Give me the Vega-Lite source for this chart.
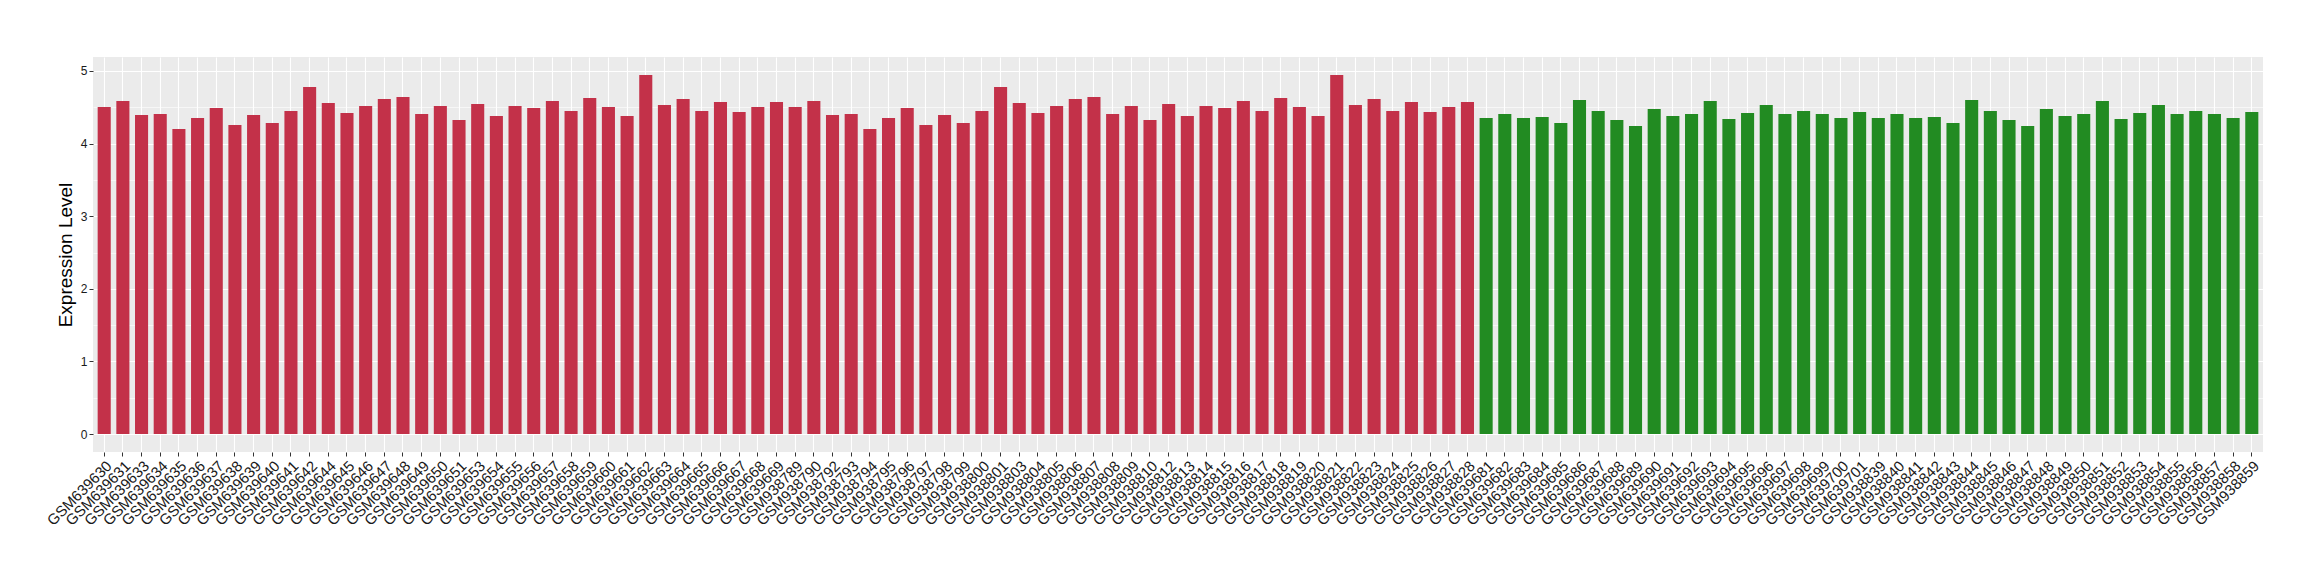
{
  "$schema": "https://vega.github.io/schema/vega-lite/v6.json",
  "autosize": "none",
  "width": 2170,
  "height": 395,
  "padding": {"left": 93, "top": 57, "right": 57, "bottom": 128},
  "background": "white",
  "config": {
    "view": {"fill": "#EBEBEB", "stroke": null},
    "font": "Liberation Sans"
  },
  "data": {
    "values": [
      {"sample": "GSM639630", "value": 4.505, "group": "G1"},
      {"sample": "GSM639631", "value": 4.587, "group": "G1"},
      {"sample": "GSM639633", "value": 4.394, "group": "G1"},
      {"sample": "GSM639634", "value": 4.408, "group": "G1"},
      {"sample": "GSM639635", "value": 4.202, "group": "G1"},
      {"sample": "GSM639636", "value": 4.353, "group": "G1"},
      {"sample": "GSM639637", "value": 4.491, "group": "G1"},
      {"sample": "GSM639638", "value": 4.257, "group": "G1"},
      {"sample": "GSM639639", "value": 4.394, "group": "G1"},
      {"sample": "GSM639640", "value": 4.284, "group": "G1"},
      {"sample": "GSM639641", "value": 4.450, "group": "G1"},
      {"sample": "GSM639642", "value": 4.780, "group": "G1"},
      {"sample": "GSM639644", "value": 4.560, "group": "G1"},
      {"sample": "GSM639645", "value": 4.422, "group": "G1"},
      {"sample": "GSM639646", "value": 4.518, "group": "G1"},
      {"sample": "GSM639647", "value": 4.615, "group": "G1"},
      {"sample": "GSM639648", "value": 4.642, "group": "G1"},
      {"sample": "GSM639649", "value": 4.408, "group": "G1"},
      {"sample": "GSM639650", "value": 4.518, "group": "G1"},
      {"sample": "GSM639651", "value": 4.326, "group": "G1"},
      {"sample": "GSM639653", "value": 4.546, "group": "G1"},
      {"sample": "GSM639654", "value": 4.381, "group": "G1"},
      {"sample": "GSM639655", "value": 4.518, "group": "G1"},
      {"sample": "GSM639656", "value": 4.491, "group": "G1"},
      {"sample": "GSM639657", "value": 4.587, "group": "G1"},
      {"sample": "GSM639658", "value": 4.450, "group": "G1"},
      {"sample": "GSM639659", "value": 4.628, "group": "G1"},
      {"sample": "GSM639660", "value": 4.505, "group": "G1"},
      {"sample": "GSM639661", "value": 4.381, "group": "G1"},
      {"sample": "GSM639662", "value": 4.945, "group": "G1"},
      {"sample": "GSM639663", "value": 4.532, "group": "G1"},
      {"sample": "GSM639664", "value": 4.615, "group": "G1"},
      {"sample": "GSM639665", "value": 4.450, "group": "G1"},
      {"sample": "GSM639666", "value": 4.573, "group": "G1"},
      {"sample": "GSM639667", "value": 4.436, "group": "G1"},
      {"sample": "GSM639668", "value": 4.505, "group": "G1"},
      {"sample": "GSM639669", "value": 4.573, "group": "G1"},
      {"sample": "GSM938789", "value": 4.505, "group": "G1"},
      {"sample": "GSM938790", "value": 4.587, "group": "G1"},
      {"sample": "GSM938792", "value": 4.394, "group": "G1"},
      {"sample": "GSM938793", "value": 4.408, "group": "G1"},
      {"sample": "GSM938794", "value": 4.202, "group": "G1"},
      {"sample": "GSM938795", "value": 4.353, "group": "G1"},
      {"sample": "GSM938796", "value": 4.491, "group": "G1"},
      {"sample": "GSM938797", "value": 4.257, "group": "G1"},
      {"sample": "GSM938798", "value": 4.394, "group": "G1"},
      {"sample": "GSM938799", "value": 4.284, "group": "G1"},
      {"sample": "GSM938800", "value": 4.450, "group": "G1"},
      {"sample": "GSM938801", "value": 4.780, "group": "G1"},
      {"sample": "GSM938803", "value": 4.560, "group": "G1"},
      {"sample": "GSM938804", "value": 4.422, "group": "G1"},
      {"sample": "GSM938805", "value": 4.518, "group": "G1"},
      {"sample": "GSM938806", "value": 4.615, "group": "G1"},
      {"sample": "GSM938807", "value": 4.642, "group": "G1"},
      {"sample": "GSM938808", "value": 4.408, "group": "G1"},
      {"sample": "GSM938809", "value": 4.518, "group": "G1"},
      {"sample": "GSM938810", "value": 4.326, "group": "G1"},
      {"sample": "GSM938812", "value": 4.546, "group": "G1"},
      {"sample": "GSM938813", "value": 4.381, "group": "G1"},
      {"sample": "GSM938814", "value": 4.518, "group": "G1"},
      {"sample": "GSM938815", "value": 4.491, "group": "G1"},
      {"sample": "GSM938816", "value": 4.587, "group": "G1"},
      {"sample": "GSM938817", "value": 4.450, "group": "G1"},
      {"sample": "GSM938818", "value": 4.628, "group": "G1"},
      {"sample": "GSM938819", "value": 4.505, "group": "G1"},
      {"sample": "GSM938820", "value": 4.381, "group": "G1"},
      {"sample": "GSM938821", "value": 4.945, "group": "G1"},
      {"sample": "GSM938822", "value": 4.532, "group": "G1"},
      {"sample": "GSM938823", "value": 4.615, "group": "G1"},
      {"sample": "GSM938824", "value": 4.450, "group": "G1"},
      {"sample": "GSM938825", "value": 4.573, "group": "G1"},
      {"sample": "GSM938826", "value": 4.436, "group": "G1"},
      {"sample": "GSM938827", "value": 4.505, "group": "G1"},
      {"sample": "GSM938828", "value": 4.573, "group": "G1"},
      {"sample": "GSM639681", "value": 4.353, "group": "G2"},
      {"sample": "GSM639682", "value": 4.408, "group": "G2"},
      {"sample": "GSM639683", "value": 4.353, "group": "G2"},
      {"sample": "GSM639684", "value": 4.367, "group": "G2"},
      {"sample": "GSM639685", "value": 4.284, "group": "G2"},
      {"sample": "GSM639686", "value": 4.601, "group": "G2"},
      {"sample": "GSM639687", "value": 4.450, "group": "G2"},
      {"sample": "GSM639688", "value": 4.326, "group": "G2"},
      {"sample": "GSM639689", "value": 4.243, "group": "G2"},
      {"sample": "GSM639690", "value": 4.477, "group": "G2"},
      {"sample": "GSM639691", "value": 4.381, "group": "G2"},
      {"sample": "GSM639692", "value": 4.408, "group": "G2"},
      {"sample": "GSM639693", "value": 4.587, "group": "G2"},
      {"sample": "GSM639694", "value": 4.339, "group": "G2"},
      {"sample": "GSM639695", "value": 4.422, "group": "G2"},
      {"sample": "GSM639696", "value": 4.532, "group": "G2"},
      {"sample": "GSM639697", "value": 4.408, "group": "G2"},
      {"sample": "GSM639698", "value": 4.450, "group": "G2"},
      {"sample": "GSM639699", "value": 4.408, "group": "G2"},
      {"sample": "GSM639700", "value": 4.353, "group": "G2"},
      {"sample": "GSM639701", "value": 4.436, "group": "G2"},
      {"sample": "GSM938839", "value": 4.353, "group": "G2"},
      {"sample": "GSM938840", "value": 4.408, "group": "G2"},
      {"sample": "GSM938841", "value": 4.353, "group": "G2"},
      {"sample": "GSM938842", "value": 4.367, "group": "G2"},
      {"sample": "GSM938843", "value": 4.284, "group": "G2"},
      {"sample": "GSM938844", "value": 4.601, "group": "G2"},
      {"sample": "GSM938845", "value": 4.450, "group": "G2"},
      {"sample": "GSM938846", "value": 4.326, "group": "G2"},
      {"sample": "GSM938847", "value": 4.243, "group": "G2"},
      {"sample": "GSM938848", "value": 4.477, "group": "G2"},
      {"sample": "GSM938849", "value": 4.381, "group": "G2"},
      {"sample": "GSM938850", "value": 4.408, "group": "G2"},
      {"sample": "GSM938851", "value": 4.587, "group": "G2"},
      {"sample": "GSM938852", "value": 4.339, "group": "G2"},
      {"sample": "GSM938853", "value": 4.422, "group": "G2"},
      {"sample": "GSM938854", "value": 4.532, "group": "G2"},
      {"sample": "GSM938855", "value": 4.408, "group": "G2"},
      {"sample": "GSM938856", "value": 4.450, "group": "G2"},
      {"sample": "GSM938857", "value": 4.408, "group": "G2"},
      {"sample": "GSM938858", "value": 4.353, "group": "G2"},
      {"sample": "GSM938859", "value": 4.436, "group": "G2"}
    ]
  },
  "mark": {"type": "bar"},
  "encoding": {
    "x": {
      "field": "sample",
      "type": "nominal",
      "sort": null,
      "scale": {"paddingInner": 0.3, "paddingOuter": 0.25},
      "axis": {
        "title": null,
        "domain": false,
        "grid": true,
        "gridColor": "white",
        "gridWidth": 1.1,
        "ticks": true,
        "tickColor": "#333333",
        "tickSize": 4,
        "tickWidth": 1,
        "labelAngle": -45,
        "labelAlign": "right",
        "labelBaseline": "top",
        "labelFontSize": 15,
        "labelColor": "#1A1A1A",
        "labelPadding": 2,
        "labelOverlap": false,
        "labelFont": "Liberation Sans"
      }
    },
    "y": {
      "field": "value",
      "type": "quantitative",
      "scale": {"domain": [-0.247, 5.192], "nice": false, "zero": false},
      "axis": {
        "title": "Expression Level",
        "titleFontSize": 19,
        "titleFontWeight": "normal",
        "titleColor": "black",
        "titlePadding": 5,
        "titleFont": "Liberation Sans",
        "values": [0, 0.5, 1, 1.5, 2, 2.5, 3, 3.5, 4, 4.5, 5],
        "labelExpr": "datum.value % 1 === 0 ? format(datum.value, 'd') : ''",
        "domain": false,
        "grid": true,
        "gridColor": "white",
        "gridWidth": {"condition": {"test": "datum.value % 1 !== 0", "value": 0.6}, "value": 1.1},
        "tickColor": "#333333",
        "tickOpacity": {"condition": {"test": "datum.value % 1 !== 0", "value": 0}, "value": 1},
        "tickSize": 4,
        "labelFontSize": 12,
        "labelColor": "#1A1A1A",
        "labelPadding": 2,
        "labelFont": "Liberation Sans"
      }
    },
    "color": {
      "field": "group",
      "type": "nominal",
      "scale": {"domain": ["G1", "G2"], "range": ["#C33149", "#228B22"]},
      "legend": null
    }
  }
}
